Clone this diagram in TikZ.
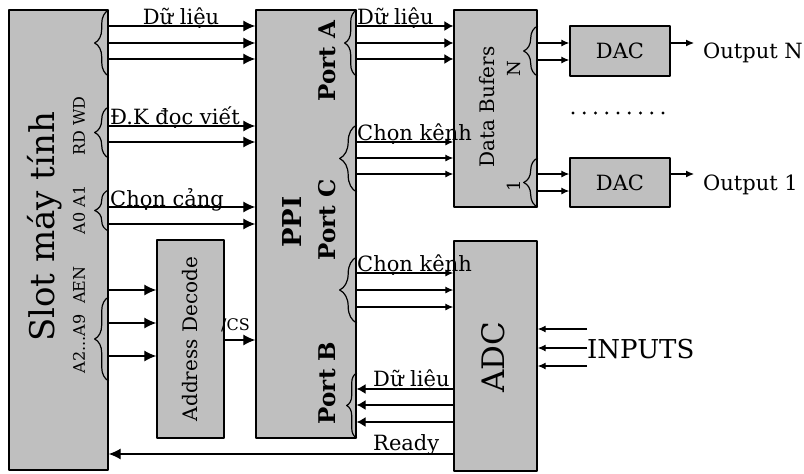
\documentclass[tikz,border=0pt]{standalone}
\usepackage{fontspec}
\setmainfont{DejaVu Serif}
\usetikzlibrary{arrows.meta,decorations.pathreplacing}

\begin{document}
\begin{tikzpicture}[x=1pt,y=-1pt,line join=round,
	box/.style={draw,line width=1.4pt,fill=black!25,inner sep=0pt},
	big/.style={line width=1.2pt,-{Latex[length=12pt,width=11pt]}},
	mid/.style={line width=1.2pt,-{Latex[length=9pt,width=10pt]}},
	small/.style={line width=1.1pt,-{Latex[length=8pt,width=7pt]}},
	bundle/.style={decorate,decoration={brace,amplitude=#1},line width=1.2pt},
	lab/.style={font=\fontsize{21}{24}\selectfont,inner sep=0pt},
	vlab/.style={rotate=90,inner sep=0pt}]
	\useasboundingbox (0,0) rectangle (804,474);
	% cac khoi
	\node[box,minimum width=99pt,minimum height=460pt] (slot) at (58.5,240) {};
	\node[box,minimum width=67pt,minimum height=198pt] (decode) at (190.5,339) {};
	\node[box,minimum width=100pt,minimum height=428pt] (ppi) at (306,224) {};
	\node[box,minimum width=83pt,minimum height=197pt] (buf) at (495.5,108.5) {};
	\node[box,minimum width=83pt,minimum height=230pt] (adc) at (495.5,356) {};
	\node[box,minimum width=100pt,minimum height=50pt,font=\fontsize{21}{24}\selectfont] (dacN) at (620,51) {DAC};
	\node[box,minimum width=100pt,minimum height=49pt,font=\fontsize{21}{24}\selectfont] (dac1) at (620,182.5) {DAC};
	% chu trong khoi
	\node[vlab,font=\fontsize{34}{36}\selectfont] (slotT) at (45,227) {Slot máy tính};
	\node[vlab,font=\fontsize{16}{18}\selectfont] (rdwd) at (79,126) {RD WD};
	\node[vlab,font=\fontsize{16}{18}\selectfont] (a01) at (79,210) {A0 A1};
	\node[vlab,font=\fontsize{16}{18}\selectfont] (aen) at (79,320) {A2...A9\hspace{11pt}AEN};
	\node[vlab,font=\fontsize{20}{24}\selectfont] (decT) at (decode.center) {Address Decode};
	\node[vlab,font=\fontsize{26}{28}\selectfont\bfseries] (ppiT) at (292,222) {PPI};
	\node[vlab,font=\fontsize{23}{26}\selectfont\bfseries] (portA) at (327,61) {Port A};
	\node[vlab,font=\fontsize{23}{26}\selectfont\bfseries] (portC) at (327,220) {Port C};
	\node[vlab,font=\fontsize{23}{26}\selectfont\bfseries] (portB) at (327,383) {Port B};
	\node[vlab,font=\fontsize{20}{24}\selectfont] (bufT) at (487,107) {Data Bufers};
	\node[vlab,font=\fontsize{18}{20}\selectfont] (bufN) at (514,69) {N};
	\node[vlab,font=\fontsize{18}{20}\selectfont] (buf1) at (514,186) {1};
	\node[vlab,font=\fontsize{31}{34}\selectfont] (adcT) at (493,357) {ADC};
	% ngoac
	\draw[bundle=14pt] (slot.east |- 0,76) -- (slot.east |- 0,10);
	\draw[bundle=14pt] (slot.east |- 0,158) -- (slot.east |- 0,107);
	\draw[bundle=14pt] (slot.east |- 0,231) -- (slot.east |- 0,190);
	\draw[bundle=14pt] (slot.east |- 0,381) -- (slot.east |- 0,297);
	\draw[bundle=12pt] (ppi.east |- 0,76) -- (ppi.east |- 0,10);
	\draw[bundle=17pt] (ppi.east |- 0,192) -- (ppi.east |- 0,125);
	\draw[bundle=17pt] (ppi.east |- 0,323) -- (ppi.east |- 0,257);
	\draw[bundle=10pt] (ppi.east |- 0,438) -- (ppi.east |- 0,373);
	\draw[bundle=14pt] (buf.east |- 0,76) -- (buf.east |- 0,26);
	\draw[bundle=14pt] (buf.east |- 0,207) -- (buf.east |- 0,158);
	% slot -> PPI
	\draw[big] (slot.east |- 0,26) -- (ppi.west |- 0,26);
	\draw[big] (slot.east |- 0,43) -- (ppi.west |- 0,43);
	\draw[big] (slot.east |- 0,59) -- (ppi.west |- 0,59);
	\draw[big] (slot.east |- 0,126) -- (ppi.west |- 0,126);
	\draw[big] (slot.east |- 0,142) -- (ppi.west |- 0,142);
	\draw[big] (slot.east |- 0,207) -- (ppi.west |- 0,207);
	\draw[big] (slot.east |- 0,224) -- (ppi.west |- 0,224);
	% slot -> address decode -> PPI
	\draw[big] (slot.east |- 0,290) -- (decode.west |- 0,290);
	\draw[big] (slot.east |- 0,323) -- (decode.west |- 0,323);
	\draw[big] (slot.east |- 0,356) -- (decode.west |- 0,356);
	\draw[big] (decode.east |- 0,340) -- (ppi.west |- 0,340);
	% PPI -> data bufers, ADC
	\draw[mid] (ppi.east |- 0,26) -- (buf.west |- 0,26);
	\draw[mid] (ppi.east |- 0,43) -- (buf.west |- 0,43);
	\draw[mid] (ppi.east |- 0,59) -- (buf.west |- 0,59);
	\draw[small] (ppi.east |- 0,142) -- (buf.west |- 0,142);
	\draw[small] (ppi.east |- 0,158) -- (buf.west |- 0,158);
	\draw[small] (ppi.east |- 0,174) -- (buf.west |- 0,174);
	\draw[small] (ppi.east |- 0,273) -- (adc.west |- 0,273);
	\draw[small] (ppi.east |- 0,290) -- (adc.west |- 0,290);
	\draw[small] (ppi.east |- 0,307) -- (adc.west |- 0,307);
	\draw[mid] (adc.west |- 0,389) -- (ppi.east |- 0,389);
	\draw[mid] (adc.west |- 0,405) -- (ppi.east |- 0,405);
	\draw[mid] (adc.west |- 0,422) -- (ppi.east |- 0,422);
	\draw[big] (adc.west |- 0,454) -- (slot.east |- 0,454);
	% data bufers -> DAC -> output
	\draw[small] (buf.east |- 0,43) -- (dacN.west |- 0,43);
	\draw[small] (buf.east |- 0,60) -- (dacN.west |- 0,60);
	\draw[small] (buf.east |- 0,174) -- (dac1.west |- 0,174);
	\draw[small] (buf.east |- 0,191) -- (dac1.west |- 0,191);
	\node[lab,anchor=base west] (outN) at (703,58) {Output N};
	\node[lab,anchor=base west] (out1) at (703,190) {Output 1};
	\draw[small] (dacN.east |- 0,43) -- ([xshift=-9pt]outN.west |- 0,43);
	\draw[small] (dac1.east |- 0,174) -- ([xshift=-9pt]out1.west |- 0,174);
	\foreach \i in {0,...,8} \fill (573+11.25*\i,113) circle (1.7pt);
	% inputs
	\node[lab,font=\fontsize{26}{28}\selectfont,anchor=base west] (inp) at (587,358) {INPUTS};
	\draw[small] (inp.west |- 0,329) -- (adc.east |- 0,329);
	\draw[small] (inp.west |- 0,348) -- (adc.east |- 0,348);
	\draw[small] (inp.west |- 0,366) -- (adc.east |- 0,366);
	% nhan
	\node[lab,anchor=base] (dl1) at (181,24) {Dữ liệu};
	\node[lab,anchor=base west] (dkdv) at (110,124) {Đ.K đọc viết};
	\node[lab,anchor=base west] (chc) at (110,206) {Chọn cảng};
	\node[lab,anchor=base west] (dl2) at (357,24) {Dữ liệu};
	\node[lab,anchor=base west] (ck1) at (357,140) {Chọn kênh};
	\node[lab,anchor=base west] (ck2) at (357,271) {Chọn kênh};
	\node[lab,anchor=base west] (dl3) at (373,386) {Dữ liệu};
	\node[lab,anchor=base west] (rdy) at (373,450) {Ready};
	\node[lab,font=\fontsize{16}{18}\selectfont,anchor=base west] (cs) at (221,330) {/CS};
\end{tikzpicture}
\end{document}
